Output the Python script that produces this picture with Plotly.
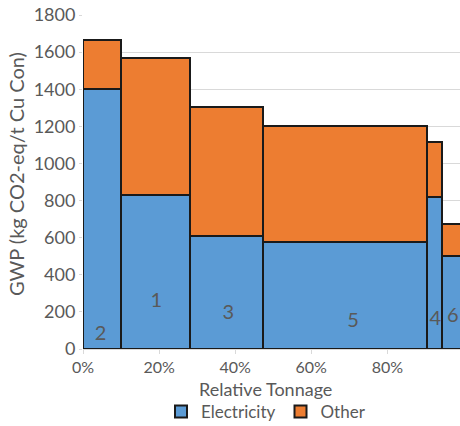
import plotly.graph_objects as go

# Data
site_labels = ["2", "1", "3", "5", "4", "6"]
widths = [0.100, 0.181, 0.191, 0.431, 0.041, 0.056]
electricity = [1400, 830, 611, 578, 821, 501]
other = [264, 738, 693, 624, 294, 173]
label_x = [0.046, 0.193, 0.382, 0.710, 0.926, 0.972]
label_y = [75, 253, 189, 144, 156, 171]

lefts = []
acc = 0.0
for w in widths:
    lefts.append(acc)
    acc += w
centers = [l + w / 2 for l, w in zip(lefts, widths)]

FONT = "Lato"
GRAY = "#595959"

L, R, T, B = 83, 0, 15, 77
W, H = 460, 426
plot_w = W - L - R
plot_h = H - T - B


def px_x(px):
    return (px - L) / plot_w


def px_y(py):
    return (H - B - py) / plot_h


fig = go.Figure()
fig.add_trace(go.Bar(x=centers, y=electricity, width=widths, name="Electricity",
                     marker=dict(color="#5b9bd5", line=dict(color="#1a1a1a", width=2))))
fig.add_trace(go.Bar(x=centers, y=other, width=widths, name="Other",
                     marker=dict(color="#ed7d31", line=dict(color="#1a1a1a", width=2))))
fig.add_trace(go.Scatter(x=label_x, y=label_y, text=site_labels, mode="text",
                         textfont=dict(family=FONT, size=20, color=GRAY),
                         showlegend=False, hoverinfo="skip"))

fig.update_layout(
    width=W, height=H,
    margin=dict(l=L, r=R, t=T, b=B, autoexpand=False),
    barmode="stack",
    plot_bgcolor="white", paper_bgcolor="white",
    font=dict(family=FONT, size=18, color=GRAY),
    showlegend=True,
    legend=dict(orientation="h", x=px_x(266), xanchor="center", y=px_y(412), yanchor="middle",
                traceorder="normal", font=dict(size=17, color=GRAY),
                itemwidth=30, tracegroupgap=0, bgcolor="rgba(0,0,0,0)"),
    xaxis=dict(range=[0, 0.991], tickformat=".0%", dtick=0.2, tick0=0,
               showgrid=False, showline=True, linecolor="#d9d9d9", linewidth=1,
               ticks="outside", ticklen=4, tickcolor="#d9d9d9",
               tickfont=dict(size=16, color=GRAY), zeroline=False),
    yaxis=dict(range=[0, 1800], dtick=200, showgrid=True, gridcolor="#d9d9d9",
               gridwidth=1, zeroline=False, showline=False,
               ticks="outside", ticklen=3, tickcolor="#d9d9d9",
               tickfont=dict(size=18, color=GRAY)),
    annotations=[
        dict(text="Relative Tonnage", x=px_x(265), y=px_y(389), xref="paper", yref="paper",
             xanchor="center", yanchor="middle", showarrow=False,
             font=dict(size=18, color=GRAY)),
        dict(text="GWP (kg CO2-eq/t Cu Con)", x=px_x(16), y=px_y(174), xref="paper",
             yref="paper", xanchor="center", yanchor="middle", textangle=-90,
             showarrow=False, font=dict(size=20, color=GRAY)),
    ],
)

fig.write_html("out.html")
